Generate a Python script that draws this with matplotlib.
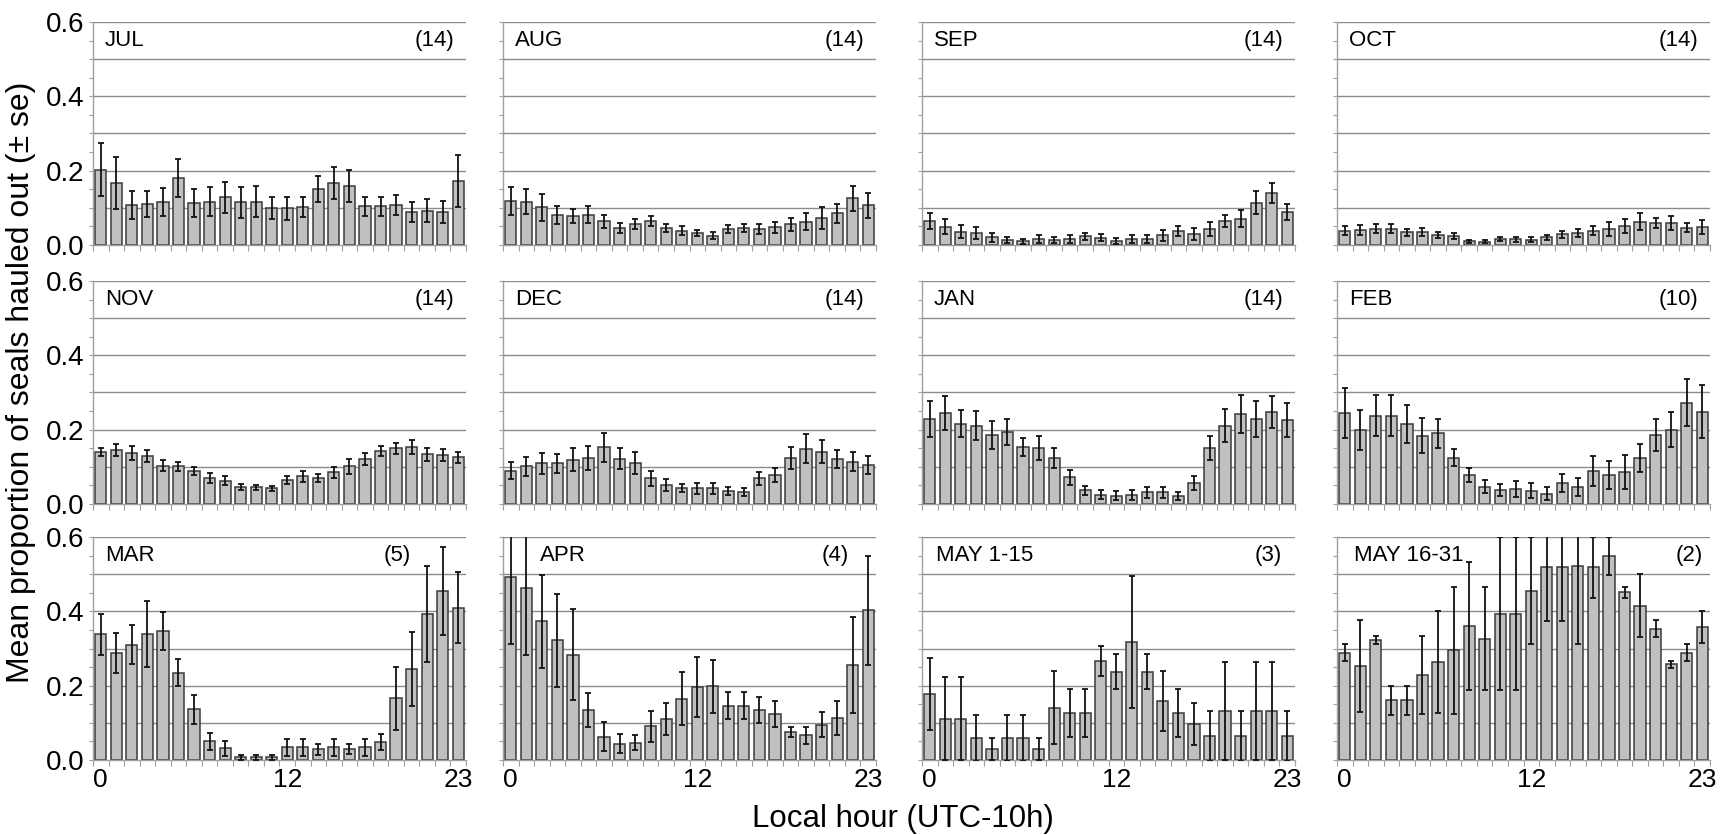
import numpy as np
import matplotlib
matplotlib.use("Agg")
import matplotlib.pyplot as plt
from matplotlib.ticker import MultipleLocator, FixedLocator

plt.rcParams['font.family'] = ['Liberation Sans', 'DejaVu Sans']

hours = np.arange(24)

months = ['JUL', 'AUG', 'SEP', 'OCT',
          'NOV', 'DEC', 'JAN', 'FEB',
          'MAR', 'APR', 'MAY 1-15', 'MAY 16-31']
n_seals = [14, 14, 14, 14, 14, 14, 14, 10, 5, 4, 3, 2]

jul = [0.203, 0.166, 0.107, 0.110, 0.116, 0.181, 0.113, 0.117, 0.128, 0.115, 0.117, 0.099,
       0.099, 0.102, 0.150, 0.167, 0.159, 0.104, 0.104, 0.107, 0.090, 0.092, 0.089, 0.172]
jul_se = [0.072, 0.070, 0.037, 0.036, 0.038, 0.051, 0.038, 0.040, 0.042, 0.042, 0.042, 0.030,
          0.031, 0.026, 0.035, 0.043, 0.044, 0.026, 0.025, 0.027, 0.027, 0.031, 0.029, 0.069]

aug = [0.118, 0.117, 0.101, 0.081, 0.078, 0.081, 0.064, 0.046, 0.056, 0.064, 0.045, 0.039,
       0.032, 0.025, 0.044, 0.045, 0.043, 0.048, 0.056, 0.063, 0.072, 0.085, 0.126, 0.107]
aug_se = [0.037, 0.034, 0.036, 0.024, 0.020, 0.023, 0.017, 0.014, 0.013, 0.013, 0.011, 0.012,
          0.009, 0.010, 0.011, 0.011, 0.013, 0.015, 0.017, 0.022, 0.029, 0.025, 0.034, 0.034]

sep = [0.064, 0.049, 0.036, 0.033, 0.021, 0.013, 0.010, 0.017, 0.013, 0.016, 0.023, 0.020,
       0.011, 0.016, 0.016, 0.026, 0.037, 0.030, 0.042, 0.065, 0.071, 0.114, 0.140, 0.089]
sep_se = [0.021, 0.020, 0.017, 0.016, 0.012, 0.008, 0.007, 0.011, 0.008, 0.010, 0.010, 0.009,
          0.008, 0.010, 0.011, 0.014, 0.014, 0.016, 0.019, 0.017, 0.022, 0.031, 0.027, 0.022]

octo = [0.039, 0.041, 0.044, 0.044, 0.034, 0.035, 0.027, 0.023, 0.010, 0.009, 0.016, 0.015,
        0.014, 0.021, 0.029, 0.032, 0.038, 0.044, 0.051, 0.063, 0.059, 0.059, 0.047, 0.048]
octo_se = [0.013, 0.013, 0.013, 0.013, 0.010, 0.010, 0.008, 0.008, 0.004, 0.004, 0.006, 0.006,
           0.007, 0.007, 0.010, 0.011, 0.012, 0.019, 0.020, 0.022, 0.014, 0.019, 0.013, 0.018]

nov = [0.141, 0.146, 0.137, 0.128, 0.103, 0.101, 0.089, 0.070, 0.063, 0.045, 0.045, 0.042,
       0.064, 0.074, 0.070, 0.085, 0.101, 0.122, 0.142, 0.150, 0.154, 0.134, 0.133, 0.126]
nov_se = [0.011, 0.016, 0.019, 0.016, 0.015, 0.013, 0.010, 0.013, 0.012, 0.008, 0.006, 0.006,
          0.010, 0.015, 0.011, 0.014, 0.021, 0.016, 0.013, 0.015, 0.019, 0.017, 0.016, 0.015]

dec = [0.090, 0.101, 0.109, 0.109, 0.119, 0.123, 0.153, 0.122, 0.110, 0.069, 0.051, 0.043,
       0.042, 0.042, 0.035, 0.033, 0.069, 0.078, 0.124, 0.149, 0.141, 0.121, 0.114, 0.106]
dec_se = [0.023, 0.026, 0.029, 0.026, 0.031, 0.032, 0.039, 0.028, 0.030, 0.020, 0.017, 0.011,
          0.014, 0.014, 0.012, 0.011, 0.018, 0.020, 0.029, 0.039, 0.032, 0.024, 0.026, 0.024]

jan = [0.228, 0.244, 0.216, 0.210, 0.186, 0.195, 0.153, 0.150, 0.124, 0.072, 0.037, 0.025,
       0.022, 0.025, 0.031, 0.031, 0.022, 0.057, 0.151, 0.211, 0.242, 0.228, 0.248, 0.226]
jan_se = [0.048, 0.046, 0.036, 0.039, 0.038, 0.035, 0.024, 0.032, 0.026, 0.020, 0.012, 0.012,
          0.012, 0.013, 0.015, 0.015, 0.010, 0.019, 0.033, 0.045, 0.051, 0.048, 0.043, 0.046]

feb = [0.244, 0.199, 0.238, 0.238, 0.215, 0.184, 0.191, 0.125, 0.078, 0.047, 0.038, 0.040,
       0.036, 0.028, 0.056, 0.045, 0.088, 0.078, 0.087, 0.124, 0.185, 0.200, 0.272, 0.248]
feb_se = [0.067, 0.053, 0.056, 0.056, 0.052, 0.048, 0.039, 0.024, 0.020, 0.017, 0.017, 0.022,
          0.020, 0.017, 0.024, 0.024, 0.040, 0.037, 0.046, 0.037, 0.043, 0.047, 0.063, 0.071]

mar = [0.338, 0.288, 0.310, 0.339, 0.347, 0.235, 0.137, 0.050, 0.031, 0.007, 0.007, 0.007,
       0.034, 0.034, 0.029, 0.034, 0.029, 0.034, 0.049, 0.166, 0.244, 0.393, 0.455, 0.410]
mar_se = [0.055, 0.053, 0.052, 0.089, 0.051, 0.036, 0.039, 0.023, 0.020, 0.007, 0.007, 0.007,
          0.022, 0.022, 0.015, 0.023, 0.014, 0.023, 0.021, 0.084, 0.100, 0.128, 0.118, 0.096]

apr = [0.492, 0.462, 0.373, 0.322, 0.283, 0.134, 0.063, 0.044, 0.046, 0.091, 0.111, 0.165,
       0.196, 0.198, 0.146, 0.146, 0.135, 0.124, 0.075, 0.066, 0.095, 0.113, 0.256, 0.403]
apr_se = [0.181, 0.179, 0.125, 0.125, 0.122, 0.046, 0.039, 0.026, 0.020, 0.042, 0.043, 0.072,
          0.080, 0.071, 0.036, 0.036, 0.035, 0.035, 0.013, 0.022, 0.033, 0.047, 0.129, 0.147]

may1 = [0.178, 0.111, 0.111, 0.059, 0.030, 0.059, 0.059, 0.030, 0.141, 0.126, 0.126, 0.267,
        0.238, 0.318, 0.238, 0.158, 0.126, 0.097, 0.065, 0.133, 0.065, 0.133, 0.133, 0.065]
may1_se = [0.096, 0.111, 0.111, 0.062, 0.030, 0.062, 0.062, 0.030, 0.099, 0.064, 0.064, 0.040,
           0.047, 0.177, 0.047, 0.081, 0.064, 0.057, 0.068, 0.132, 0.068, 0.132, 0.132, 0.068]

may2 = [0.289, 0.253, 0.322, 0.161, 0.161, 0.229, 0.263, 0.295, 0.361, 0.326, 0.394, 0.394,
        0.456, 0.520, 0.520, 0.523, 0.518, 0.550, 0.451, 0.415, 0.353, 0.257, 0.289, 0.357]
may2_se = [0.023, 0.123, 0.011, 0.039, 0.039, 0.104, 0.137, 0.170, 0.172, 0.139, 0.207, 0.207,
           0.144, 0.145, 0.145, 0.211, 0.081, 0.051, 0.015, 0.085, 0.023, 0.009, 0.023, 0.043]

means = [jul, aug, sep, octo, nov, dec, jan, feb, mar, apr, may1, may2]
errors = [jul_se, aug_se, sep_se, octo_se, nov_se, dec_se, jan_se, feb_se,
          mar_se, apr_se, may1_se, may2_se]

# where the month name and sample size sit in each panel (axes fraction)
name_x = [0.032, 0.032, 0.032, 0.032, 0.032, 0.032, 0.032, 0.032, 0.032, 0.10, 0.037, 0.045]
count_x = [0.968, 0.968, 0.968, 0.968, 0.968, 0.968, 0.968, 0.968, 0.853, 0.928, 0.965, 0.98]

W, H = 1723, 835
fig = plt.figure(figsize=(W / 100, H / 100), dpi=100)

lefts = [93, 503, 922, 1337]
tops = [22, 281, 537]
aw, ah = 373, 223

grid_c = '#8c8c8c'

for i in range(12):
    r, c = divmod(i, 4)
    ax = fig.add_axes([lefts[c] / W, 1 - (tops[r] + ah) / H, aw / W, ah / H])
    ax.bar(hours, means[i], width=0.72, color='#c0c0c0', edgecolor='#3a3a3a',
           linewidth=1.1, zorder=2)
    ax.errorbar(hours, means[i], yerr=errors[i], fmt='none', ecolor='#111111',
                elinewidth=1.3, capsize=2.5, capthick=1.3, zorder=3)
    ax.set_xlim(-0.5, 23.5)
    ax.set_ylim(0, 0.6)
    for yv in np.arange(0.1, 0.61, 0.1):
        ax.axhline(yv, color=grid_c, lw=1.0, zorder=0)
    for s in ['top', 'right']:
        ax.spines[s].set_visible(False)
    for s in ['left', 'bottom']:
        ax.spines[s].set_color('#a0a0a0')
        ax.spines[s].set_linewidth(1.0)

    ax.yaxis.set_major_locator(MultipleLocator(0.2))
    ax.yaxis.set_minor_locator(MultipleLocator(0.05))
    ax.tick_params(axis='y', which='both', direction='out', color='#a0a0a0',
                   length=3, width=0.8, labelsize=20, pad=3)
    if c == 0:
        ax.set_yticklabels([f'{v:.1f}' for v in ax.get_yticks()])
    else:
        ax.tick_params(axis='y', labelleft=False)

    ax.xaxis.set_major_locator(FixedLocator([0, 12, 23]))
    ax.xaxis.set_minor_locator(FixedLocator(np.arange(-0.5, 24, 1)))
    ax.tick_params(axis='x', which='major', length=0, labelsize=19, pad=6)
    ax.tick_params(axis='x', which='minor', direction='out', color='#a0a0a0',
                   length=4, width=0.8)
    if r < 2:
        ax.tick_params(axis='x', labelbottom=False)

    ax.text(name_x[i], 0.55 / 0.6, months[i], transform=ax.transAxes,
            fontsize=16, ha='left', va='center')
    ax.text(count_x[i], 0.55 / 0.6, f'({n_seals[i]})', transform=ax.transAxes,
            fontsize=16, ha='right', va='center')

fig.text(21 / W, 1 - 382 / H, 'Mean proportion of seals hauled out (± se)',
         rotation=90, fontsize=23, ha='center', va='center')
fig.text(903 / W, 1 - 819 / H, 'Local hour (UTC-10h)',
         fontsize=22.5, ha='center', va='center')

fig.savefig('out.png', dpi=100)
